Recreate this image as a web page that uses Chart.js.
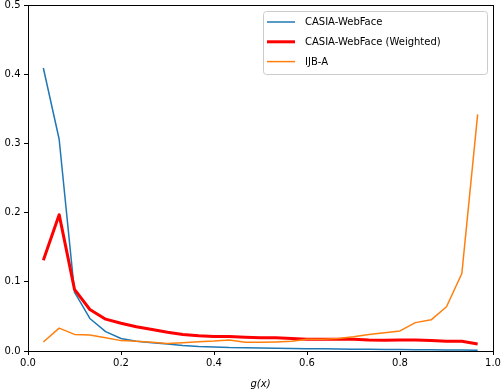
<!DOCTYPE html>
<html>
<head>
<meta charset="utf-8">
<script src="https://cdn.jsdelivr.net/npm/chart.js@4"></script>
<style>
    body { margin: 0; background: #fff; overflow: hidden; }
    #wrap { position: absolute; left: -4px; top: 0; width: 508px; height: 392px; }
</style>
</head>
<body>
<div id="wrap"><canvas id="chart" width="508" height="392"></canvas></div>
<script>
// g(x) bin positions
const xValues = [0.033, 0.067, 0.100, 0.133, 0.167, 0.200, 0.233, 0.267, 0.300, 0.333,
                 0.367, 0.400, 0.433, 0.467, 0.500, 0.533, 0.567, 0.600, 0.633, 0.667,
                 0.700, 0.733, 0.767, 0.800, 0.833, 0.867, 0.900, 0.933, 0.967];

const casia = [0.409, 0.306, 0.085, 0.047, 0.028, 0.018, 0.014, 0.012, 0.010, 0.008,
               0.0065, 0.0058, 0.005, 0.0047, 0.0043, 0.004, 0.0037, 0.0034, 0.0031, 0.0029,
               0.0027, 0.0025, 0.0023, 0.0021, 0.0019, 0.0017, 0.0015, 0.0013, 0.0011];

const casiaWeighted = [0.131, 0.197, 0.089, 0.060, 0.046, 0.040, 0.035, 0.031, 0.027, 0.024,
                       0.022, 0.021, 0.021, 0.020, 0.019, 0.019, 0.018, 0.017, 0.017, 0.017,
                       0.017, 0.016, 0.0155, 0.016, 0.016, 0.015, 0.014, 0.014, 0.010];

const ijba = [0.013, 0.033, 0.024, 0.023, 0.019, 0.015, 0.014, 0.0125, 0.011, 0.012,
              0.0135, 0.0145, 0.016, 0.0125, 0.0125, 0.013, 0.014, 0.017, 0.017, 0.018,
              0.0205, 0.024, 0.0265, 0.029, 0.041, 0.045, 0.064, 0.112, 0.342];

const xTicks = [0, 0.2, 0.4, 0.6, 0.8, 1.0];
const yTicks = [0, 0.1, 0.2, 0.3, 0.4, 0.5];

Chart.defaults.font.family = 'DejaVu Sans';
Chart.defaults.font.size = 10;
Chart.defaults.color = '#000';

function toPoints(values) {
    return values.map((v, i) => ({ x: xValues[i], y: v }));
}

// Full box around the plot (matplotlib spines)
const frame = {
    id: 'frame',
    afterDatasetsDraw(chart) {
        const a = chart.chartArea;
        const ctx = chart.ctx;
        ctx.save();
        ctx.strokeStyle = '#000';
        ctx.lineWidth = 1;
        ctx.strokeRect(Math.round(a.left) + 0.5, Math.round(a.top) + 0.5,
                       Math.round(a.right - a.left), Math.round(a.bottom - a.top));
        ctx.restore();
    }
};

// Legend box in the upper right corner
const boxLegend = {
    id: 'boxLegend',
    afterDraw(chart) {
        const a = chart.chartArea;
        const ctx = chart.ctx;
        const w = 224, h = 63;
        const x0 = Math.round(a.right) - 6 - w, y0 = Math.round(a.top) + 6;
        ctx.save();
        ctx.beginPath();
        ctx.roundRect(x0 + 0.5, y0 + 0.5, w, h, 3);
        ctx.fillStyle = 'rgba(255,255,255,0.8)';
        ctx.fill();
        ctx.strokeStyle = '#cccccc';
        ctx.lineWidth = 1;
        ctx.stroke();
        ctx.font = '10px "DejaVu Sans"';
        ctx.textBaseline = 'middle';
        ctx.fillStyle = '#000';
        chart.data.datasets.forEach((ds, i) => {
            const y = y0 + 11 + i * 19.8;
            ctx.beginPath();
            ctx.moveTo(x0 + 4, y);
            ctx.lineTo(x0 + 32, y);
            ctx.strokeStyle = ds.borderColor;
            ctx.lineWidth = ds.borderWidth;
            ctx.stroke();
            ctx.fillText(ds.label, x0 + 42, y + 0.5);
        });
        ctx.restore();
    }
};

new Chart(document.getElementById('chart'), {
    type: 'line',
    data: {
        datasets: [{
            label: 'CASIA-WebFace',
            data: toPoints(casia),
            borderColor: '#1f77b4',
            borderWidth: 1.5,
            order: 3
        }, {
            label: 'CASIA-WebFace (Weighted)',
            data: toPoints(casiaWeighted),
            borderColor: '#ff0000',
            borderWidth: 3,
            order: 2
        }, {
            label: 'IJB-A',
            data: toPoints(ijba),
            borderColor: '#ff7f0e',
            borderWidth: 1.5,
            order: 1
        }]
    },
    plugins: [frame, boxLegend],
    options: {
        responsive: false,
        devicePixelRatio: 1,
        animation: false,
        layout: { padding: { left: 0, right: 11, top: 5, bottom: 0 } },
        elements: {
            point: { radius: 0 },
            line: { tension: 0, borderCapStyle: 'butt', borderJoinStyle: 'round' }
        },
        plugins: {
            legend: { display: false },
            tooltip: { enabled: false }
        },
        scales: {
            x: {
                type: 'linear',
                min: 0,
                max: 1,
                afterBuildTicks: s => { s.ticks = xTicks.map(v => ({ value: v })); },
                afterFit: s => { s.height = 41; },
                ticks: { callback: v => v.toFixed(1), padding: 2, maxRotation: 0 },
                grid: { drawOnChartArea: false, drawTicks: true, tickLength: 4, color: '#000' },
                border: { display: false },
                title: {
                    display: true,
                    text: 'g(x)',
                    font: { style: 'italic', size: 10 },
                    padding: { top: 0, bottom: 2 }
                }
            },
            y: {
                min: 0,
                max: 0.5,
                afterBuildTicks: s => { s.ticks = yTicks.map(v => ({ value: v })); },
                afterFit: s => { s.width = 32; s.paddingTop = 0; },
                ticks: { callback: v => v.toFixed(1), padding: 3.5 },
                grid: { drawOnChartArea: false, drawTicks: true, tickLength: 4, color: '#000' },
                border: { display: false }
            }
        }
    }
});
</script>
</body>
</html>
